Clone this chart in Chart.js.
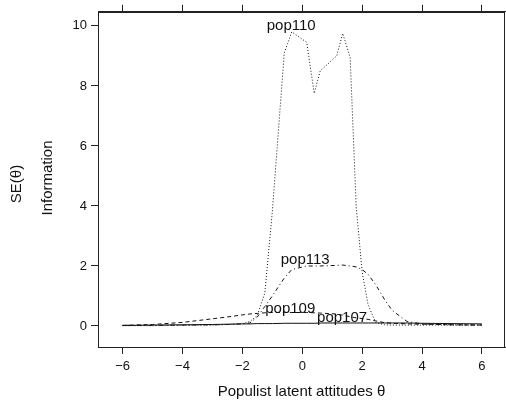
<!DOCTYPE html>
<html>
<head>
<meta charset="utf-8">
<script src="https://cdn.jsdelivr.net/npm/chart.js@4"></script>
<style>
  html, body { margin: 0; padding: 0; background: #fff; }
  #c { display: block; }
</style>
</head>
<body>
<canvas id="c" width="506" height="403"></canvas>
<script>
// theta grid shared by all four curves
const theta = [-6, -5, -4, -3, -2.5, -2, -1.75, -1.5, -1.25, -1, -0.6, -0.35, 0.15, 0.4, 0.6, 1.15, 1.35, 1.6, 1.8, 2, 2.2, 2.45, 2.75, 3, 3.5, 4, 5, 6];

const pop110 = [0.01, 0.01, 0.02, 0.03, 0.05, 0.08, 0.15, 0.35, 1.1, 3.8, 9.1, 9.8, 9.45, 7.75, 8.5, 9.0, 9.75, 8.95, 4.0, 1.8, 0.7, 0.12, 0.04, 0.03, 0.03, 0.03, 0.03, 0.03];
const pop113 = [0.02, 0.02, 0.03, 0.04, 0.05, 0.07, 0.1, 0.3, 0.65, 1.0, 1.6, 1.88, 2.0, 2.0, 2.0, 2.02, 2.03, 2.0, 1.97, 1.88, 1.72, 1.38, 0.88, 0.52, 0.15, 0.07, 0.04, 0.03];
const pop109 = [0.02, 0.05, 0.12, 0.24, 0.3, 0.37, 0.4, 0.42, 0.44, 0.45, 0.45, 0.45, 0.45, 0.44, 0.43, 0.4, 0.36, 0.31, 0.27, 0.25, 0.22, 0.17, 0.11, 0.09, 0.07, 0.06, 0.04, 0.03];
const pop107 = [0.02, 0.03, 0.04, 0.05, 0.06, 0.07, 0.07, 0.08, 0.08, 0.08, 0.09, 0.09, 0.09, 0.09, 0.1, 0.1, 0.1, 0.1, 0.1, 0.1, 0.1, 0.1, 0.1, 0.1, 0.1, 0.09, 0.08, 0.07];

const xTicks = [-6, -4, -2, 0, 2, 4, 6];
const yTicks = [0, 2, 4, 6, 8, 10];

// curve labels (data coordinates)
const labelText = ['pop110', 'pop113', 'pop109', 'pop107'];
const labelX = [-0.37, 0.1, -0.4, 1.33];
const labelY = [10.0, 2.2, 0.56, 0.26];

const FONT = '"Liberation Sans", Arial, Helvetica, sans-serif';

function pts(ys) {
    return theta.map((t, i) => ({ x: t, y: ys[i] }));
}

function fmt(v) {
    return v < 0 ? '\u2212' + Math.abs(v) : String(v);
}

const frame = {
    id: 'frame',
    afterDraw(chart) {
        const ctx = chart.ctx;
        const a = chart.chartArea;
        ctx.save();
        ctx.strokeStyle = '#222';
        ctx.lineWidth = 1;
        ctx.strokeRect(Math.round(a.left) + 0.5, Math.round(a.top) + 0.5,
            Math.round(a.right - a.left) - 1, Math.round(a.bottom - a.top));
        ctx.restore();
    }
};

function vText(ctx, s, x, y) {
    ctx.save();
    ctx.fillStyle = '#111';
    ctx.font = '15px ' + FONT;
    ctx.textAlign = 'center';
    ctx.textBaseline = 'middle';
    ctx.translate(x, y);
    ctx.rotate(-Math.PI / 2);
    ctx.fillText(s, 0, 0);
    ctx.restore();
}

const texts = {
    id: 'texts',
    afterDatasetsDraw(chart) {
        const ctx = chart.ctx;
        const xs = chart.scales.x, ys = chart.scales.y;
        ctx.save();
        ctx.fillStyle = '#111';
        ctx.font = '15px ' + FONT;
        ctx.textAlign = 'center';
        ctx.textBaseline = 'middle';
        labelText.forEach((s, i) => {
            ctx.fillText(s, xs.getPixelForValue(labelX[i]), ys.getPixelForValue(labelY[i]));
        });
        ctx.restore();
        // two y axis titles
        vText(ctx, 'SE(\u03b8)', 17, 184);
        vText(ctx, 'Information', 48, 178);
    }
};

const line = (label, ys, dash) => ({
    label: label,
    data: pts(ys),
    showLine: true,
    borderColor: '#111',
    borderWidth: 1,
    borderDash: dash,
    pointRadius: 0,
    tension: 0
});

const tickGrid = {
    display: true,
    drawOnChartArea: false,
    drawTicks: true,
    tickLength: 7,
    color: '#222'
};

new Chart(document.getElementById('c'), {
    type: 'scatter',
    data: {
        datasets: [
            line('pop107', pop107, []),
            line('pop109', pop109, [4, 3]),
            line('pop113', pop113, [1, 3, 4, 3]),
            line('pop110', pop110, [1, 2])
        ]
    },
    options: {
        responsive: false,
        animation: false,
        devicePixelRatio: 1,
        layout: { padding: { left: 0, right: 1, top: 0, bottom: 0 } },
        plugins: {
            legend: { display: false },
            tooltip: { enabled: false }
        },
        scales: {
            x: {
                type: 'linear',
                position: 'bottom',
                min: -6.82,
                max: 6.77,
                afterBuildTicks: s => { s.ticks = xTicks.map(v => ({ value: v })); },
                afterFit: s => { s.height = 56; },
                grid: tickGrid,
                border: { display: true, color: '#222' },
                ticks: {
                    color: '#111',
                    padding: 5,
                    maxRotation: 0,
                    font: { family: FONT, size: 13 },
                    callback: v => fmt(v)
                },
                title: {
                    display: true,
                    text: 'Populist latent attitudes \u03b8',
                    color: '#111',
                    font: { family: FONT, size: 15 },
                    padding: { top: 0, bottom: 2 }
                }
            },
            x2: {
                type: 'linear',
                position: 'top',
                min: -6.82,
                max: 6.77,
                afterBuildTicks: s => { s.ticks = xTicks.map(v => ({ value: v })); },
                afterFit: s => { s.height = 10; },
                grid: tickGrid,
                border: { display: true, color: '#222' },
                ticks: { display: false }
            },
            y: {
                type: 'linear',
                min: -0.7,
                max: 10.47,
                afterBuildTicks: s => { s.ticks = yTicks.map(v => ({ value: v })); },
                afterFit: s => { s.width = 98; },
                grid: tickGrid,
                border: { display: true, color: '#222' },
                ticks: {
                    color: '#111',
                    padding: 4,
                    font: { family: FONT, size: 13 },
                    callback: v => fmt(v)
                }
            }
        }
    },
    plugins: [frame, texts]
});
</script>
</body>
</html>
